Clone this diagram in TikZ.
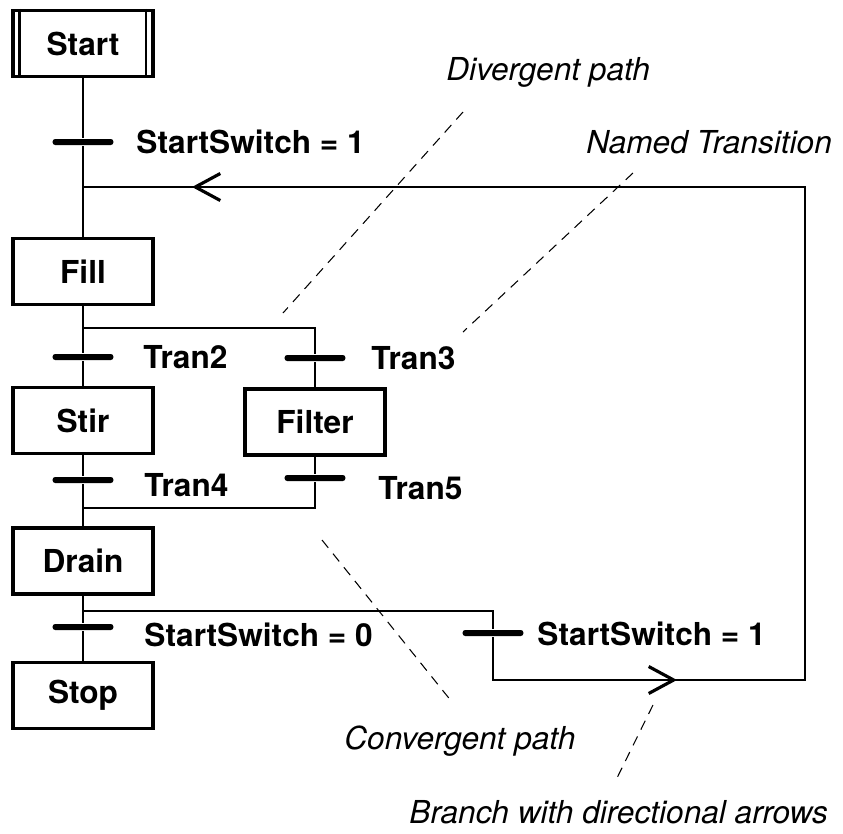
\documentclass[tikz,border=0pt]{standalone}
\usepackage{fontspec}
\setmainfont{TeX Gyre Heros}
\usetikzlibrary{arrows.meta}

\begin{document}
\begin{tikzpicture}[x=0.02cm, y=-0.02cm, line width=1.6pt,
		stepbox/.style={draw, line width=1.8pt, minimum width=2.8cm, minimum height=1.32cm, inner sep=0pt, font=\fontsize{18}{22}\selectfont\bfseries},
		trans/.style={fill, rounded corners=0.055cm, minimum width=1.22cm, minimum height=0.12cm, inner sep=0pt},
		cond/.style={anchor=west, inner sep=0pt, font=\fontsize{18}{22}\selectfont\bfseries},
		note/.style={anchor=base west, inner sep=0pt, font=\fontsize{18}{22}\selectfont\itshape},
		leader/.style={line width=0.6pt, dash pattern=on 0.2cm off 0.15cm},
		barb/.style={-{Straight Barb[length=0.5cm, width=0.54cm, line width=1.8pt]}}]
						\useasboundingbox (0,0) rectangle (843,833);

						\node[stepbox] (start) at (83,43.5) {Start};
						\draw ([xshift=0.16cm]start.north west) -- ([xshift=0.16cm]start.south west);
						\draw ([xshift=-0.17cm]start.north east) -- ([xshift=-0.17cm]start.south east);
						\node[stepbox] (fillstep) at (83,271.5) {Fill};
						\node[stepbox] (stir) at (83,420.5) {Stir};
						\node[stepbox] (filter) at (315,422) {Filter};
						\node[stepbox] (drain) at (83,561) {Drain};
						\node[stepbox] (stop) at (83,695.5) {Stop};

						\node[trans] (t1) at (83,142) {};
						\node[trans] (t2) at (83,357) {};
						\node[trans] (t3) at (315,358) {};
						\node[trans] (t4) at (83,480) {};
						\node[trans] (t5) at (315,478) {};
						\node[trans] (t6) at (83,627) {};
						\node[trans] (t7) at (493,633) {};

						\node[cond] (c1) at (135,142) {StartSwitch = 1};
						\node[cond] (c2) at (142,357) {Tran2};
						\node[cond] (c3) at (370,358) {Tran3};
						\node[cond] (c4) at (143,485) {Tran4};
						\node[cond] (c5) at (377,488) {Tran5};
						\node[cond] (c6) at (143,635) {StartSwitch = 0};
						\node[cond] (c7) at (536,634) {StartSwitch = 1};

						\coordinate (join) at (83,187);
						\coordinate (div) at (83,328);
						\coordinate (conv) at (83,508);
						\coordinate (fork) at (83,611);
						\coordinate (loopend) at (805,680);
						\coordinate (arrowA) at (192,187);
						\coordinate (arrowB) at (677,680);

						\draw (start) -- (t1) -- (fillstep);
						\draw (fillstep) -- (t2) -- (stir);
						\draw (div) -| (t3) -- (filter);
						\draw (stir) -- (t4) -- (drain);
						\draw (filter) -- (t5) |- (conv);
						\draw (drain) -- (t6) -- (stop);
						\draw (fork) -| (t7) |- (loopend) |- (join);
						\draw[barb] (t7 |- loopend) -- (arrowB);
						\draw[barb] (loopend |- join) -- (arrowA);

						\node[note] (n1) at (445,80) {Divergent path};
						\node[note] (n2) at (585,153) {Named Transition};
						\node[note] (n3) at (343,749) {Convergent path};
						\node[note] (n4) at (408,823) {Branch with directional arrows};

						\coordinate (d1) at (463,112);
						\coordinate (d2) at (283,313);
						\coordinate (d3) at (633,173);
						\coordinate (d4) at (463,332);
						\coordinate (d5) at (322,540);
						\coordinate (d6) at (452,702);
						\coordinate (d7) at (653,705);
						\coordinate (d8) at (615,782);
						\draw[leader] (d1) -- (d2);
						\draw[leader] (d3) -- (d4);
						\draw[leader] (d5) -- (d6);
						\draw[leader] (d7) -- (d8);
					\end{tikzpicture}
\end{document}
